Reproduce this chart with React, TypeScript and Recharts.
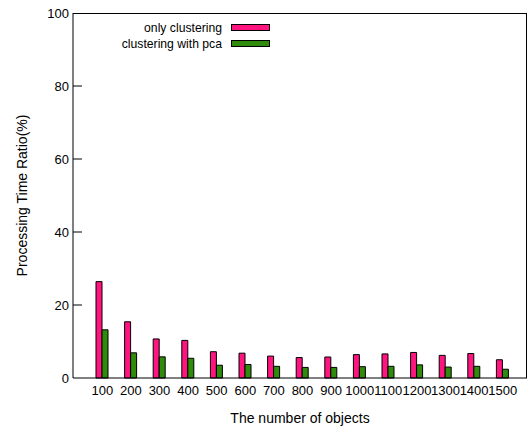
import React from "react";
import { BarChart, Bar, XAxis, YAxis } from "recharts";

const categories = ["100","200","300","400","500","600","700","800","900","1000","1100","1200","1300","1400","1500"];
const onlyClustering = [26.4,15.4,10.7,10.3,7.2,6.8,6.0,5.6,5.75,6.4,6.6,7.0,6.2,6.7,5.0];
const withPca = [13.2,6.9,5.8,5.4,3.5,3.7,3.2,2.9,2.9,3.1,3.2,3.6,3.0,3.2,2.4];
const yTicks = [0,20,40,60,80,100];

const seriesNames = ["only clustering", "clustering with pca"];
const colors = ["#ff1480", "#2e8b0c"];

const data = categories.map((c, i) => ({ name: c, a: onlyClustering[i], b: withPca[i] }));

const FONT = "'Liberation Sans', Arial, sans-serif";

const YTick = (props: any) => {
  const { x, y, payload } = props;
  return (
    <g>
      <text x={x} y={y} dy={4.5} textAnchor="end" fontSize={13} fontFamily={FONT} fill="#000">{payload.value}</text>
      {payload.value !== 0 && payload.value !== 100 ? (
        <line x1={x + 4} x2={x + 13} y1={y} y2={y} stroke="#000" strokeWidth={1} />
      ) : null}
    </g>
  );
};

const XTick = (props: any) => {
  const { x, y, payload } = props;
  return (
    <text x={x} y={y} dy={12} textAnchor="middle" fontSize={13} fontFamily={FONT} fill="#000">{payload.value}</text>
  );
};

export default function App() {
  return (
    <div style={{ position: "absolute", left: 0, top: 0, width: 528, height: 426, background: "#fff" }}>
      <BarChart
        width={528}
        height={426}
        data={data}
        margin={{ top: 13, right: 1, bottom: 0, left: 0 }}
        barGap={0}
        barCategoryGap={0}
      >
        <XAxis
          dataKey="name"
          height={48}
          tickLine={false}
          axisLine={{ stroke: "#000" }}
          interval={0}
          padding={{ left: 15, right: 10 }}
          tick={<XTick />}
          tickSize={0}
          tickMargin={5}
          label={{ value: "The number of objects", position: "insideBottom", offset: 3, fontSize: 14, fontFamily: FONT, fill: "#000" }}
        />
        <YAxis
          width={73}
          domain={[0, 100]}
          ticks={yTicks}
          tickLine={false}
          axisLine={{ stroke: "#000" }}
          tick={<YTick />}
          tickSize={0}
          tickMargin={4}
          label={{ value: "Processing Time Ratio(%)", angle: -90, position: "insideLeft", offset: 22, fontSize: 14, fontFamily: FONT, fill: "#000", style: { textAnchor: "middle" } }}
        />
        <Bar dataKey="a" name={seriesNames[0]} fill={colors[0]} stroke="#000" strokeWidth={1} barSize={6} isAnimationActive={false} />
        <Bar dataKey="b" name={seriesNames[1]} fill={colors[1]} stroke="#000" strokeWidth={1} barSize={6} isAnimationActive={false} />
      </BarChart>
      <svg width={528} height={426} style={{ position: "absolute", left: 0, top: 0, pointerEvents: "none" }}>
        <line x1={73} x2={527} y1={13.5} y2={13.5} stroke="#000" strokeWidth={1} />
        <line x1={526.5} x2={526.5} y1={13} y2={378} stroke="#000" strokeWidth={1} />
        {seriesNames.map((n, i) => (
          <g key={n}>
            <text x={222} y={27 + i * 16} dy={4.5} textAnchor="end" fontSize={12.2} fontFamily={FONT} fill="#000">{n}</text>
            <rect x={231.5} y={24.5 + i * 16} width={38} height={6} fill={colors[i]} stroke="#000" strokeWidth={1} />
          </g>
        ))}
      </svg>
    </div>
  );
}
